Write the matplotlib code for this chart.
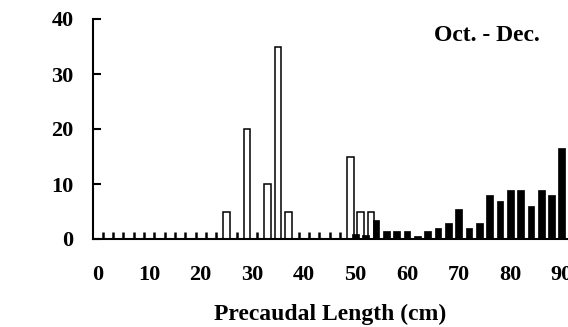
import matplotlib
matplotlib.use('Agg')
import matplotlib.pyplot as plt
from matplotlib.ticker import FixedLocator

plt.rcParams['font.family'] = ['Liberation Serif', 'DejaVu Serif']
plt.rcParams['font.weight'] = 'bold'

# open bars (odd bin centres, cm) and filled bars (even bin centres, cm)
open_centers = [25, 29, 33, 35, 37, 49, 51, 53]
open_counts = [5, 20, 10, 35, 5, 15, 5, 5]
filled_centers = [50, 52, 54, 56, 58, 60, 62, 64, 66, 68, 70,
                  72, 74, 76, 78, 80, 82, 84, 86, 88, 90]
filled_counts = [1, 0.8, 3.5, 1.5, 1.5, 1.5, 0.6, 1.5, 2, 3, 5.5,
                 2, 3, 8, 7, 9, 9, 6, 9, 8, 16.5]
x_ticks = [0, 10, 20, 30, 40, 50, 60, 70, 80, 90]
y_ticks = [0, 10, 20, 30, 40]
small_ticks = list(range(1, 49, 2))

fig = plt.figure(figsize=(5.68, 3.27), dpi=100)
ax = fig.add_axes([93/568, 88/327, 1 - 93/568, 220/327])

ax.bar(open_centers, open_counts, width=1.3, color='white',
       edgecolor='black', linewidth=1.1, zorder=3)
ax.bar(filled_centers, filled_counts, width=1.3, color='black',
       edgecolor='black', linewidth=0.5, zorder=4)

ax.set_xlim(-0.87, 91.2)
ax.set_ylim(0, 40)
ax.spines['top'].set_visible(False)
ax.spines['right'].set_visible(False)
ax.spines['left'].set_linewidth(1.5)
ax.spines['bottom'].set_linewidth(1.5)
ax.spines['left'].set_zorder(5)
ax.spines['bottom'].set_zorder(5)

ax.set_xticks(x_ticks)
ax.set_yticks(y_ticks)
ax.xaxis.set_minor_locator(FixedLocator(small_ticks))
ax.tick_params(axis='x', which='major', length=0, pad=19, labelsize=16)
ax.tick_params(axis='x', which='minor', direction='in', length=5, width=1.8)
ax.tick_params(axis='y', direction='in', length=6, width=1.5, pad=14,
               labelsize=16)

ax.set_xlabel('Precaudal Length (cm)', fontsize=17, fontweight='bold',
              labelpad=13)
ax.text(0.83, 0.927, 'Oct. - Dec.', transform=ax.transAxes,
        ha='center', va='center', fontsize=17, fontweight='bold')

fig.savefig('out.png', dpi=100)
